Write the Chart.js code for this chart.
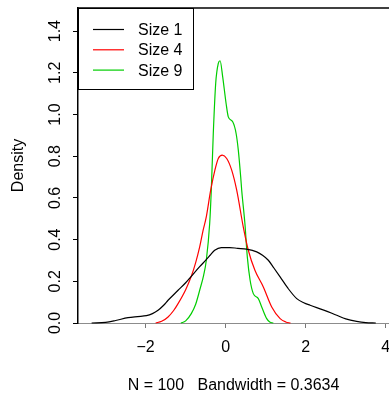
<!DOCTYPE html>
<html>
<head>
<meta charset="utf-8">
<title>Density</title>
<script src="https://cdn.jsdelivr.net/npm/chart.js@4.4.0/dist/chart.umd.min.js"></script>
<style>
    html, body { margin: 0; padding: 0; background: #ffffff; }
    #wrap { width: 389px; height: 396px; }
</style>
</head>
<body>
<div id="wrap"><canvas id="chart" width="389" height="396"></canvas></div>
<script>
// Series
const seriesNames = ['Size 1', 'Size 4', 'Size 9'];
const seriesColors = ['#000000', '#ff0000', '#00cd00'];

const size1X = [-3.35, -3.0, -2.75, -2.44, -2.2, -1.98, -1.83, -1.69, -1.55, -1.44, -1.19, -1.0, -0.86, -0.65, -0.485, -0.39, -0.275, -0.11, 0.1, 0.3, 0.52, 0.775, 0.92, 1.065, 1.2, 1.36, 1.55, 1.775, 1.95, 2.11, 2.45, 2.775, 3.0, 3.27, 3.5, 3.75];
const size1Y = [0, 0.003, 0.012, 0.026, 0.031, 0.035, 0.045, 0.061, 0.085, 0.109, 0.157, 0.193, 0.224, 0.27, 0.304, 0.325, 0.349, 0.362, 0.362, 0.358, 0.354, 0.341, 0.325, 0.301, 0.265, 0.221, 0.168, 0.117, 0.097, 0.085, 0.062, 0.037, 0.02, 0.008, 0.002, 0];

const size4X = [-1.75, -1.6, -1.44, -1.3, -1.19, -1.0, -0.86, -0.75, -0.65, -0.57, -0.485, -0.375, -0.27, -0.185, -0.085, 0.025, 0.15, 0.275, 0.44, 0.565, 0.73, 0.94, 1.15, 1.36, 1.5, 1.62];
const size4Y = [0, 0.008, 0.029, 0.06, 0.093, 0.16, 0.224, 0.29, 0.365, 0.44, 0.509, 0.637, 0.733, 0.789, 0.805, 0.789, 0.733, 0.637, 0.46, 0.349, 0.253, 0.173, 0.077, 0.021, 0.005, 0];

const size9X = [-1.12, -1.0, -0.86, -0.75, -0.65, -0.55, -0.485, -0.4, -0.36, -0.31, -0.25, -0.185, -0.14, -0.075, 0.01, 0.065, 0.175, 0.26, 0.315, 0.375, 0.4, 0.48, 0.54, 0.61, 0.69, 0.815, 0.9, 1.025, 1.1, 1.19];
const size9Y = [0, 0.01, 0.045, 0.09, 0.157, 0.23, 0.3, 0.477, 0.637, 0.909, 1.149, 1.245, 1.258, 1.181, 1.053, 0.989, 0.965, 0.909, 0.829, 0.7, 0.637, 0.477, 0.317, 0.205, 0.141, 0.117, 0.077, 0.021, 0.005, 0];

// Axes
const xTicks = [-2, 0, 2, 4];
const xTickLabels = ['\u22122', '0', '2', '4'];
const yTicks = [0, 0.2, 0.4, 0.6, 0.8, 1.0, 1.2, 1.4];
const yTickLabels = ['0.0', '0.2', '0.4', '0.6', '0.8', '1.0', '1.2', '1.4'];
const xTitle = 'N = 100   Bandwidth = 0.3634';
const yTitle = 'Density';

const FONT = '"Liberation Sans", Arial, Helvetica, sans-serif';

function toPoints(xs, ys) {
    return xs.map((x, i) => ({ x: x, y: ys[i] }));
}

const allX = [size1X, size4X, size9X];
const allY = [size1Y, size4Y, size9Y];

const datasets = seriesNames.map((name, i) => ({
    label: name,
    data: toPoints(allX[i], allY[i]),
    borderColor: seriesColors[i],
    borderWidth: 1.2,
    pointRadius: 0,
    fill: false,
    cubicInterpolationMode: 'monotone',
    clip: false
}));

// Top frame line, rotated y labels, legend box
const rStyle = {
    id: 'rStyle',
    afterDraw(chart) {
        const ctx = chart.ctx;
        const a = chart.chartArea;
        const yScale = chart.scales.y;
        ctx.save();

        ctx.strokeStyle = '#000';
        ctx.lineWidth = 1.5;
        ctx.beginPath();
        ctx.moveTo(a.left, a.top);
        ctx.lineTo(a.right, a.top);
        ctx.stroke();

        ctx.fillStyle = '#000';
        ctx.font = '16px ' + FONT;
        ctx.textAlign = 'center';
        ctx.textBaseline = 'middle';
        yTicks.forEach((v, i) => {
            const py = yScale.getPixelForValue(v);
            ctx.save();
            ctx.translate(56, py);
            ctx.rotate(-Math.PI / 2);
            ctx.fillText(yTickLabels[i], 0, 0);
            ctx.restore();
        });

        // legend
        const lx = a.left, ly = a.top, lw = 115, lh = 81;
        ctx.fillStyle = '#fff';
        ctx.fillRect(lx, ly, lw, lh);
        ctx.strokeStyle = '#000';
        ctx.lineWidth = 1;
        ctx.strokeRect(lx + 0.5, ly + 0.5, lw, lh);
        ctx.textAlign = 'left';
        chart.data.datasets.forEach((ds, i) => {
            const ry = ly + 21.5 + i * 20.3;
            ctx.strokeStyle = ds.borderColor;
            ctx.lineWidth = 1.2;
            ctx.beginPath();
            ctx.moveTo(lx + 15, ry);
            ctx.lineTo(lx + 46, ry);
            ctx.stroke();
            ctx.fillStyle = '#000';
            ctx.fillText(ds.label, lx + 60, ry + 1);
        });
        ctx.restore();
    }
};

new Chart(document.getElementById('chart'), {
    type: 'line',
    data: { datasets: datasets },
    options: {
        responsive: false,
        animation: false,
        devicePixelRatio: 1,
        layout: { padding: { top: 8, right: 0, left: 0, bottom: 0 } },
        plugins: {
            legend: { display: false },
            tooltip: { enabled: false }
        },
        scales: {
            x: {
                type: 'linear',
                min: -3.69,
                max: 4.08,
                afterBuildTicks: s => { s.ticks = xTicks.map(v => ({ value: v })); },
                afterFit: s => { s.height = 73; s.paddingLeft = 0; s.paddingRight = 0; },
                grid: {
                    drawOnChartArea: false,
                    drawTicks: true,
                    tickLength: 5,
                    tickColor: '#777777'
                },
                border: { display: true, color: '#8c8c8c', width: 1 },
                ticks: {
                    padding: 10,
                    color: '#000',
                    font: { family: FONT, size: 16 },
                    maxRotation: 0,
                    callback: v => {
                        const k = xTicks.indexOf(v);
                        return k >= 0 ? xTickLabels[k] : '';
                    }
                },
                title: {
                    display: true,
                    text: xTitle,
                    color: '#000',
                    font: { family: FONT, size: 16 },
                    padding: { top: 0, bottom: 1 }
                }
            },
            y: {
                type: 'linear',
                min: 0,
                max: 1.511,
                afterBuildTicks: s => { s.ticks = yTicks.map(v => ({ value: v })); },
                afterFit: s => { s.width = 78; s.paddingTop = 0; s.paddingBottom = 0; },
                grid: {
                    drawOnChartArea: false,
                    drawTicks: true,
                    tickLength: 5,
                    tickColor: '#000'
                },
                border: { display: true, color: '#000', width: 1.5 },
                ticks: { display: false },
                title: {
                    display: true,
                    text: yTitle,
                    color: '#000',
                    font: { family: FONT, size: 16 },
                    padding: { top: 9, bottom: 0 }
                }
            }
        }
    },
    plugins: [rStyle]
});
</script>
</body>
</html>
